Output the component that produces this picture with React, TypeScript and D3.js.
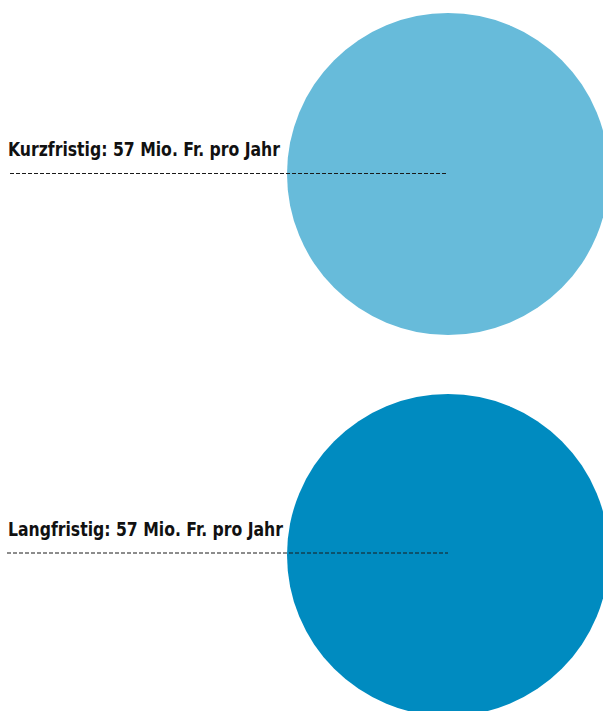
import React from "react";
import * as d3 from "d3";

const categories = ["Kurzfristig", "Langfristig"];
const values = [57, 57];
const unitLabel = "Mio. Fr. pro Jahr";
const colors = ["#67bbda", "#008bc0"];

const W = 603;
const H = 711;

export default function App() {
  const r = d3.scaleSqrt().domain([0, 57]).range([0, 161]);
  const y = d3.scalePoint<string>().domain(categories).range([174, 555]);
  const cx = 448;
  const textWidths = [272, 275];
  const lineStart = [10, 7];
  return (
    <svg
      width={W}
      height={H}
      style={{ position: "absolute", left: 0, top: 0, background: "#fff" }}
    >
      {categories.map((c, i) => {
        const cy = y(c) as number;
        return (
          <g key={c}>
            <circle cx={cx} cy={cy} r={r(values[i])} fill={colors[i]} />
            <line
              x1={lineStart[i]}
              x2={cx}
              y1={cy - 0.5 - (i === 1 ? 1.5 : 0)}
              y2={cy - 0.5 - (i === 1 ? 1.5 : 0)}
              stroke="#1a1a1a"
              strokeWidth={1}
              strokeDasharray="4,2"
            />
            <text
              x={8}
              y={cy - 18 - (i === 1 ? 1 : 0)}
              fontFamily="'Liberation Sans Narrow', 'DejaVu Sans Condensed', sans-serif"
              fontWeight="bold"
              fontSize={20}
              fill="#111"
              textLength={textWidths[i]}
              lengthAdjust="spacingAndGlyphs"
            >
              {`${c}: ${values[i]} ${unitLabel}`}
            </text>
          </g>
        );
      })}
    </svg>
  );
}
